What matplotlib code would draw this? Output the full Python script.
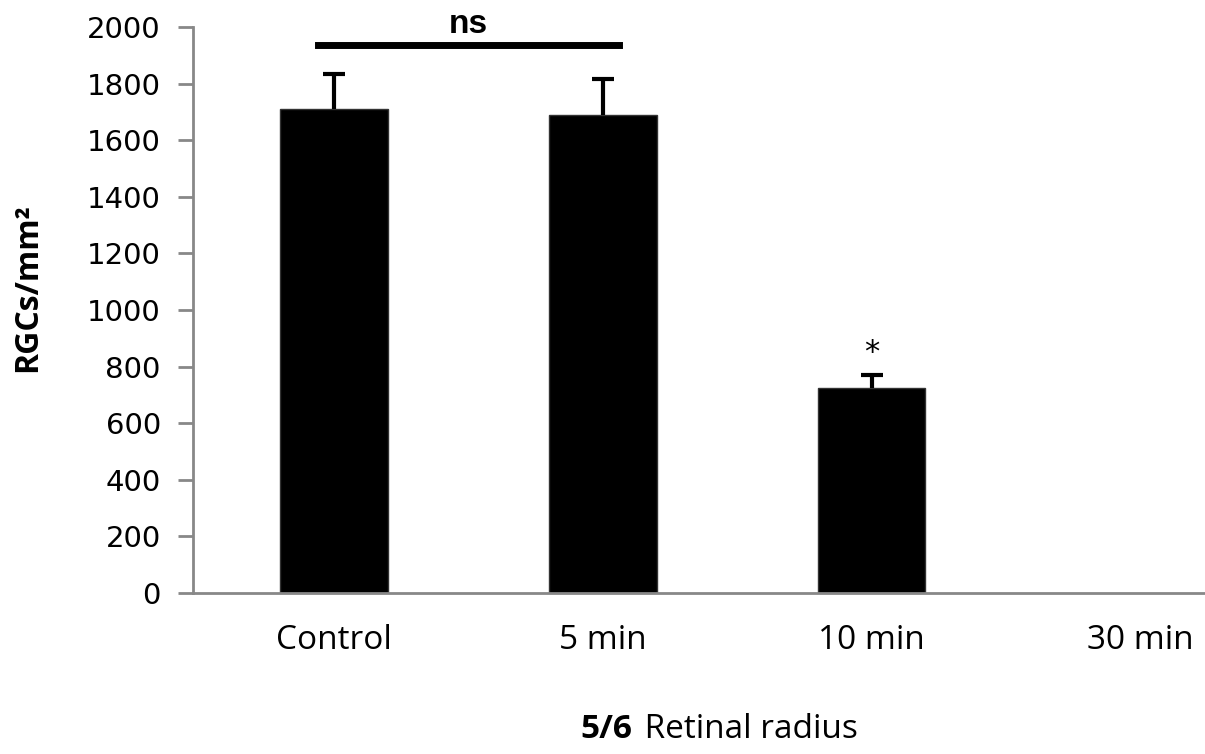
import matplotlib
matplotlib.use("Agg")
import matplotlib.pyplot as plt
import numpy as np

categories = ["Control", "5 min", "10 min", "30 min"]
means = [1710, 1691, 724, 0]
errors = [124, 124, 46, 0]
yticks = [0, 200, 400, 600, 800, 1000, 1200, 1400, 1600, 1800, 2000]

narrow = ["Open Sans", "DejaVu Sans"]

fig = plt.figure(figsize=(12.05, 7.54), dpi=100)
ax = fig.add_axes([0.160, 0.2135, 0.84, 0.7505])

x = np.arange(len(categories))
ax.bar(x[:3], means[:3], width=0.40, color="black", edgecolor="#333333", linewidth=1)
eb = ax.errorbar(x[:3], means[:3], yerr=[np.zeros(3), errors[:3]], fmt="none",
                 ecolor="black", elinewidth=3, capsize=8, capthick=3)
# keep only the upper caps
eb[1][0].set_visible(False)

ax.set_xlim(-0.525, 3.24)
ax.set_ylim(0, 2000)
ax.set_yticks(yticks)
ax.set_yticklabels([str(v) for v in yticks], fontsize=21, family="DejaVu Sans")
ax.set_xticks(x)
ax.set_xticklabels(categories, fontsize=24, family=narrow)

for s in ["top", "right"]:
    ax.spines[s].set_visible(False)
for s in ["left", "bottom"]:
    ax.spines[s].set_color("#888888")
    ax.spines[s].set_linewidth(2)
ax.tick_params(axis="y", length=11, width=2, color="#888888", pad=12)
ax.tick_params(axis="x", length=0, pad=22)

# significance marks
ax.plot([-0.06, 1.06], [1936, 1936], color="black", linewidth=5, clip_on=False)
ax.text(0.5, 2008, "ns", ha="center", va="center", fontsize=24, fontweight="bold",
        family="Liberation Sans")
ax.text(2, 850, "*", ha="center", va="center", fontsize=22, family="DejaVu Sans")

ax.set_ylabel("RGCs/mm²", fontsize=23, fontweight="bold", family="Open Sans")
ax.yaxis.set_label_coords(-0.147, 0.54)
fig.text(0.525, 0.033, "5/6", fontsize=24, fontweight="bold", family=narrow,
         ha="right", va="center")
fig.text(0.528, 0.033, " Retinal radius", fontsize=24, family=narrow,
         ha="left", va="center")

fig.savefig("out.png", dpi=100)
